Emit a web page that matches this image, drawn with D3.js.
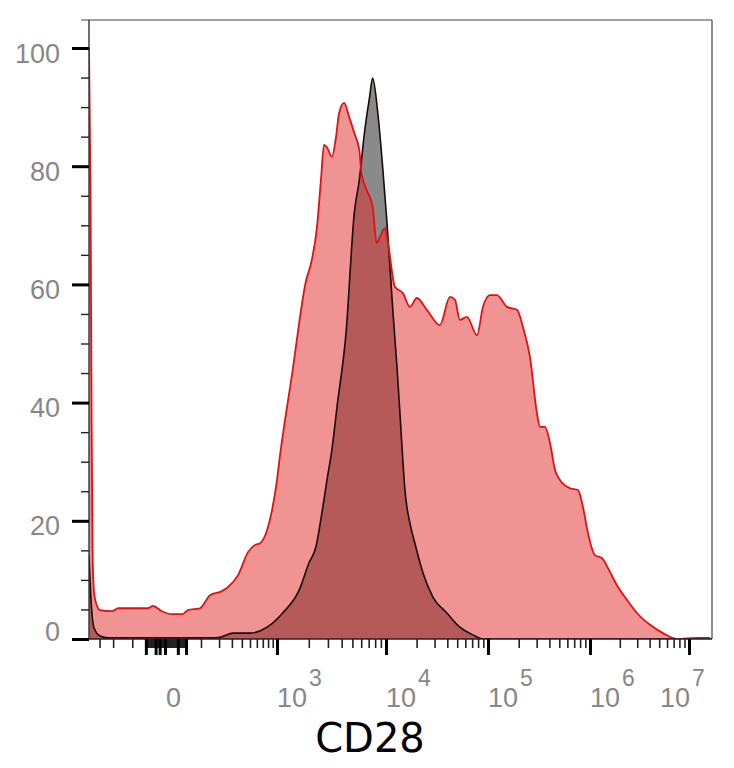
<!DOCTYPE html>
<html>
<head>
<meta charset="utf-8">
<script src="https://cdn.jsdelivr.net/npm/d3@7"></script>
<style>
  body { margin: 0; background: #fff; }
</style>
</head>
<body>
<script>
//////////////////////////////////////////////////////////////// DATA ////////////////////////////////////////////////
// CD28 stained sample (red), fluorescence value -> % of max
var redX = [-400, -384, -374, -364, -350, -331, -296, -207, -170, -43, -29, -7, 14, 39, 56, 96, 145, 220, 267, 359,
  474, 572, 652, 780, 884, 1000, 1065, 1400, 1890, 2100, 2380, 2590, 2760, 2940, 3260, 3550, 3790, 4210, 4680, 5200,
  5770, 6030, 6700, 7600, 8260, 8810, 9790, 10460, 12250, 14700, 17200, 20100, 25200, 33800, 42400, 47500, 53100,
  62200, 78000, 89300, 104600, 122500, 153600, 192300, 220000, 258000, 302000, 323600, 362000, 405000, 454000,
  508000, 637000, 763000, 854000, 956000, 1.12e6, 1.32e6, 1.52e6, 1.87e6, 2.37e6, 2.98e6, 4.04e6, 5.46e6, 7.56e6,
  1.2e7, 1.63e7];
var redY = [100, 75, 40, 15, 8, 6.1, 4.9, 4.7, 5.2, 5.2, 5.6, 4.7, 4.2, 4.2, 4.9, 5.2, 7.4, 8.1, 8.8, 10.8,
  14.7, 15.9, 16.2, 18.4, 21.8, 26.9, 30.8, 45.0, 60.7, 63.6, 69.7, 77.7, 83.6, 83.2, 81.6, 84.9, 89.0, 90.7, 88.3, 85.6,
  82.7, 78.8, 76.0, 73.1, 67.0, 68.0, 69.5, 67.0, 59.6, 58.5, 56.2, 57.7, 55.7, 53.1, 57.9, 57.4, 54.0,
  54.5, 51.4, 56.2, 58.2, 58.2, 56.2, 55.7, 52.8, 47.7, 38.2, 35.9, 35.9, 33.2, 28.6,
  26.9, 25.5, 25.2, 22.3, 17.9, 14.2, 13.7, 12.0, 9.1, 6.6, 4.4, 2.4, 1.0, 0,
  0.2, 0.2];

// unstained / isotype control (gray)
var grayX = [-400, -379, -350, -296, -234, 39, 156, 206, 310, 500, 780, 1136, 1630, 2010, 2330, 2640, 2940, 3260,
  3630, 4380, 5200, 5770, 6410, 7130, 7600, 8450, 9380, 10230, 10940, 11720, 12830, 13720, 14700, 15360, 17200,
  19230, 23070, 28900, 39600, 53100, 71300, 89300, 1.7e7];
var grayY = [14.2, 6.6, 1.9, 0.5, 0.2, 0.2, 0.2, 0.3, 1.0, 1.0, 2.0, 4.4, 8.3, 12.9, 15.6, 21.3, 26.9, 32.0,
  39.3, 51.8, 72.1, 77.7, 85.6, 91.7, 94.9, 89.0, 79.4, 70.4, 62.9, 55.2, 46.0, 38.2, 29.8, 25.2, 19.6,
  16.2, 11.2, 7.1, 4.4, 2.0, 0.7, 0, 0];

var yTicks = [0, 20, 40, 60, 80, 100];
var xExp = [3, 4, 5, 6, 7];          // major decades, labelled 10^n
var xTitle = "CD28";

//////////////////////////////////////////////////////////////// SCRIPT //////////////////////////////////////////////
var W = 734, H = 768;
var L = 89, R = 712, T = 20, B = 639;

var svg = d3.select("body").append("svg")
  .attr("width", W)
  .attr("height", H);

// biexponential-like axis: symlog pieces pinned to the decade marks
var x = d3.scaleSymlog().constant(100)
  .domain([-400, 0, 100, 1e3, 1e4, 1e5, 1e6, 1e7, 1.7e7])
  .range([L, 165, 201, 277, 386, 488, 590, 689, R]);
var y = d3.scaleLinear().domain([0, 100]).range([B, 48]);

svg.append("clipPath").attr("id", "plotclip")
  .append("rect")
  .attr("x", L).attr("y", T)
  .attr("width", R - L).attr("height", B - T);

var area = d3.area()
  .curve(d3.curveMonotoneX)
  .x(function(d) { return x(d[0]); })
  .y0(y(0))
  .y1(function(d) { return y(d[1]); });
var line = d3.line()
  .curve(d3.curveMonotoneX)
  .x(function(d) { return x(d[0]); })
  .y(function(d) { return y(d[1]); });

var red = d3.zip(redX, redY);
var gray = d3.zip(grayX, grayY);

var plot = svg.append("g").attr("clip-path", "url(#plotclip)");

plot.append("path").datum(gray).attr("d", area).attr("fill", "#8a8a8a");
plot.append("path").datum(red).attr("d", area).attr("fill", "rgba(225,40,40,0.5)");
plot.append("path").datum(gray).attr("d", line)
  .attr("fill", "none").attr("stroke", "#1a0a0a").attr("stroke-width", 1.6);
plot.append("path").datum(red).attr("d", line)
  .attr("fill", "none").attr("stroke", "#e01212").attr("stroke-width", 1.8);

// frame
svg.append("line").attr("x1", 81).attr("x2", R).attr("y1", T).attr("y2", T)
  .attr("stroke", "#444").attr("stroke-width", 1.2);
svg.append("line").attr("x1", R).attr("x2", R).attr("y1", T).attr("y2", B)
  .attr("stroke", "#444").attr("stroke-width", 1.2);
svg.append("line").attr("x1", L).attr("x2", L).attr("y1", T).attr("y2", B)
  .attr("stroke", "#333").attr("stroke-width", 1.4);
svg.append("line").attr("x1", L).attr("x2", R).attr("y1", B).attr("y2", B)
  .attr("stroke", "#222").attr("stroke-width", 1.6);

// y axis
var yMinor = d3.range(0, 101, 5).filter(function(v) { return v % 20 !== 0; });
svg.append("g")
  .attr("transform", "translate(" + L + ",0)")
  .call(d3.axisLeft(y).tickValues(yMinor).tickSize(8).tickFormat(""))
  .call(function(g) {
    g.select(".domain").remove();
    g.selectAll(".tick line").attr("stroke", "#222").attr("stroke-width", 1.4);
  });

svg.append("g")
  .attr("transform", "translate(" + L + ",0)")
  .call(d3.axisLeft(y).tickValues(yTicks).tickSize(17).tickPadding(12))
  .call(function(g) {
    g.select(".domain").remove();
    g.selectAll(".tick line").attr("stroke", "#000").attr("stroke-width", 3);
    g.selectAll(".tick text")
      .attr("font-family", "Liberation Sans, Arial, sans-serif")
      .attr("font-size", 27)
      .attr("fill", "#878787")
      .attr("dy", function(d) { return d === 0 ? "0.05em" : "0.52em"; });
  });

// x axis ticks
var xMinor = [-300, -200, -100];
for (var s = -50; s <= 50; s += 2) if (s !== 0) xMinor.push(s);
for (var m = 1; m < 10; m++) xMinor.push(m * 100);
xExp.slice(0, -1).forEach(function(e) {
  for (var k = 2; k < 10; k++) xMinor.push(k * Math.pow(10, e));
});

svg.append("g")
  .attr("transform", "translate(0," + B + ")")
  .call(d3.axisBottom(x).tickValues(xMinor).tickSize(9).tickFormat(""))
  .call(function(g) {
    g.select(".domain").remove();
    g.selectAll(".tick line").attr("stroke", "#222").attr("stroke-width", 1.6);
  });

var xMajor = [-50, -22, -12, 0, 28, 50].concat(xExp.map(function(e) { return Math.pow(10, e); }));
svg.append("g")
  .attr("transform", "translate(0," + B + ")")
  .call(d3.axisBottom(x).tickValues(xMajor).tickSize(16).tickFormat(""))
  .call(function(g) {
    g.select(".domain").remove();
    g.selectAll(".tick line").attr("stroke", "#000").attr("stroke-width", 3);
  });

// x labels
var labelFont = "Liberation Sans, Arial, sans-serif";
svg.append("text")
  .attr("x", x(0) + 1).attr("y", 707)
  .attr("font-family", labelFont).attr("font-size", 27).attr("fill", "#878787")
  .text("0");

xExp.forEach(function(e, i) {
  var px = x(Math.pow(10, e));
  if (i === xExp.length - 1) px -= 29;   // last label pulled inside the frame
  var t = svg.append("text")
    .attr("x", px).attr("y", 707)
    .attr("font-family", labelFont).attr("font-size", 27).attr("fill", "#878787");
  t.append("tspan").text("10");
  t.append("tspan").attr("dx", 2).attr("dy", -21).attr("font-size", 23).text(e);
});

svg.append("text")
  .attr("x", 370).attr("y", 752)
  .attr("text-anchor", "middle")
  .attr("font-family", "DejaVu Sans, sans-serif")
  .attr("font-size", 40)
  .attr("fill", "#000")
  .text(xTitle);
</script>
</body>
</html>
